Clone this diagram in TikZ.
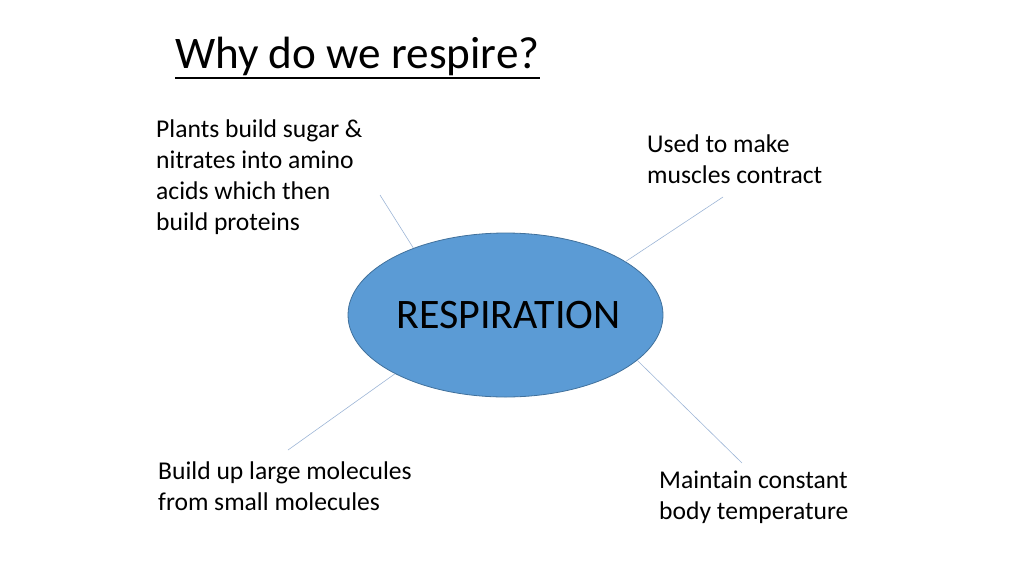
\documentclass[tikz,border=0pt]{standalone}
\usepackage{fontspec}
\setmainfont{Carlito}
\usepackage{tikz}
\usetikzlibrary{shapes,positioning,calc}
\definecolor{respFill}{HTML}{5B9BD5}
\definecolor{respDraw}{HTML}{41719C}
\definecolor{spokeBlue}{HTML}{9DB5D6}

\begin{document}
\begin{tikzpicture}[
            x=1pt, y=-1pt,
            reason/.style={
                    anchor=base west,
                    inner sep=0pt,
                    align=left,
                    font=\fontsize{25.6}{31}\selectfont
                },
            centre/.style={
                    ellipse,
                    draw=respDraw,
                    fill=respFill,
                    line width=0.8pt,
                    minimum width=315pt,
                    minimum height=164pt,
                    inner sep=0pt,
                    font=\fontsize{42}{48}\selectfont
                },
            spoke/.style={
                    draw=spokeBlue,
                    line width=0.6pt
                }
        ]
        \useasboundingbox (0,0) rectangle (1024,576);

        % Titre
        \node[anchor=base west, inner sep=0pt, font=\fontsize{45.2}{52}\selectfont] (title) at (175,68) {Why do we respire?};
        \draw[line width=1.8pt] ([yshift=-10pt]title.base west) -- ([yshift=-10pt]title.base east);

        % Ellipse centrale
        \node[centre] (resp) at (505.5,315) {\makebox[0pt]{\hspace*{6pt}RESPIRATION}};

        % Raisons (ancrage sur la dernière ligne)
        \node[reason] (plants) at (156,230) {Plants build sugar \&\\nitrates into amino\\acids which then\\build proteins};
        \node[reason] (muscles) at (647,183) {Used to make\\muscles contract};
        \node[reason] (build) at (158,510) {Build up large molecules\\from small molecules};
        \node[reason] (temp) at (659,519) {Maintain constant\\body temperature};

        % Extrémités libres
        \coordinate (plantsEnd) at (380,195);
        \coordinate (musclesEnd) at (723,197);
        \coordinate (buildEnd) at (288,450);
        \coordinate (tempEnd) at (742,463);

        % Rayons
        \draw[spoke] (resp.144) -- (plantsEnd);
        \draw[spoke] (resp.24.4) -- (musclesEnd);
        \draw[spoke] (resp.208) -- (buildEnd);
        \draw[spoke] (resp.341.5) -- (tempEnd);

    \end{tikzpicture}
\end{document}
